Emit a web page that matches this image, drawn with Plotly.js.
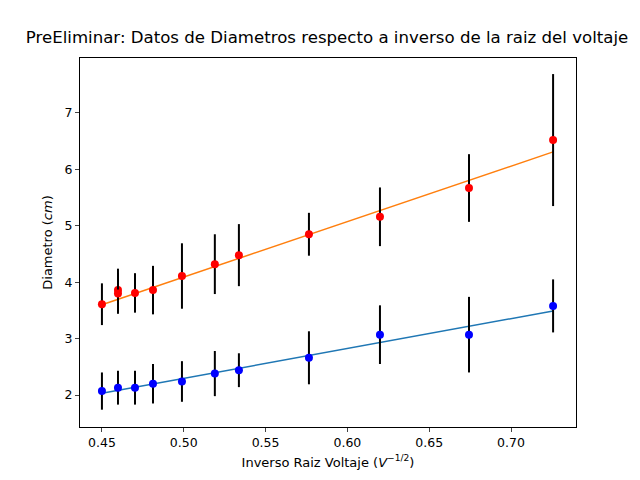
<html><head><script src="https://cdn.plot.ly/plotly-3.0.1.min.js"></script></head><body style="margin:0">
<div id="c" style="width:640px;height:480px"></div>
<script>
const xs=[0.45,0.4598,0.4702,0.4812,0.4989,0.519,0.5337,0.5765,0.6199,0.6743,0.7257];
const redY=[3.61,3.86,3.81,3.86,4.11,4.32,4.48,4.85,5.16,5.67,6.52];
const redErr=[0.37,0.38,0.35,0.43,0.58,0.53,0.55,0.38,0.52,0.6,1.17];
const redX2=[0.4598];const redY2=[3.8];const redErr2=[0.36];
const blueY=[2.07,2.13,2.13,2.2,2.24,2.38,2.44,2.66,3.07,3.07,3.58];
const blueErr=[0.33,0.3,0.3,0.35,0.36,0.4,0.3,0.47,0.52,0.67,0.47];
const fitX=[0.45,0.7257];
const fitRed=[3.6,6.31];
const fitBlue=[2.03,3.49];
const eb=a=>({type:'data',array:a,visible:true,color:'black',thickness:2,width:0});
const data=[
{x:fitX,y:fitBlue,mode:'lines',line:{color:'#1f77b4',width:1.5}},
{x:fitX,y:fitRed,mode:'lines',line:{color:'#ff7f0e',width:1.5}},
{x:xs,y:blueY,mode:'markers',marker:{color:'blue',size:8},error_y:eb(blueErr)},
{x:xs,y:redY,mode:'markers',marker:{color:'red',size:8},error_y:eb(redErr)},
{x:redX2,y:redY2,mode:'markers',marker:{color:'red',size:8},error_y:eb(redErr2)}
];
const ax={showgrid:false,zeroline:false,showline:true,mirror:true,linecolor:'black',ticks:'outside',ticklen:4,tickfont:{size:12.5}};
Plotly.newPlot('c',data,{width:640,height:480,showlegend:false,paper_bgcolor:'white',plot_bgcolor:'white',
font:{family:'DejaVu Sans',color:'black'},
margin:{l:80,r:64,t:58,b:53},
title:{text:'PreEliminar: Datos de Diametros respecto a inverso de la raiz del voltaje',font:{size:16.6},x:0.511,xanchor:'center',y:0.935},
xaxis:Object.assign({},ax,{range:[0.4366,0.7397],tickvals:[0.45,0.5,0.55,0.6,0.65,0.7],ticktext:['0.45','0.50','0.55','0.60','0.65','0.70'],title:{text:'Inverso Raiz Voltaje (<i>V</i><sup>−1/2</sup>)',font:{size:13},standoff:8}}),
yaxis:Object.assign({},ax,{range:[1.433,7.975],tickvals:[2,3,4,5,6,7],title:{text:'Diametro (<i>cm</i>)',font:{size:13},standoff:8}})
},{displayModeBar:false});
</script></body></html>
